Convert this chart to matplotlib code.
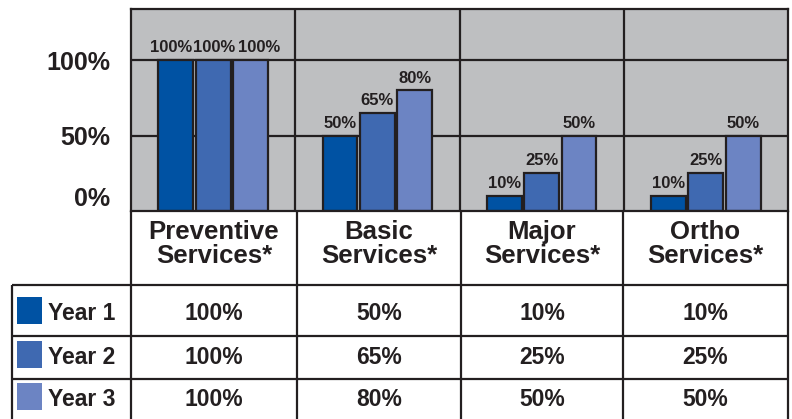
import matplotlib.pyplot as plt

# Data
categories = ['Preventive\nServices*', 'Basic\nServices*', 'Major\nServices*', 'Ortho\nServices*']
years = ['Year 1', 'Year 2', 'Year 3']
year1 = [100, 50, 10, 10]
year2 = [100, 65, 25, 25]
year3 = [100, 80, 50, 50]
yticks = [0, 50, 100]
ytick_labels = ['0%', '50%', '100%']

colors = ['#0052A3', '#3F69B1', '#6C84C3']
ink = '#231F20'
gray = '#BEBFC1'

plt.rcParams['font.family'] = ['Liberation Sans', 'DejaVu Sans']
plt.rcParams['font.weight'] = 'bold'

W, H = 792, 419
fig = plt.figure(figsize=(W / 100, H / 100), dpi=100)

def px_axes(x0, y0, x1, y1):
    # pixel box (top-left origin) -> figure axes
    return fig.add_axes([x0 / W, 1 - y1 / H, (x1 - x0) / W, (y1 - y0) / H])

# ---- bar chart ----
ax = px_axes(131, 9, 788, 211)
ax.set_facecolor(gray)
ax.set_xlim(-0.5, 3.5)
ax.set_ylim(0, 134)
lw = 1.6

for yv in [50, 100]:
    ax.axhline(yv, color=ink, lw=lw, zorder=1)
for xv in [0.5, 1.5, 2.5]:
    ax.axvline(xv, color=ink, lw=lw, zorder=1)

series = [year1, year2, year3]
offsets = [-0.228, 0, 0.228]
spread = [-3.5, 0.5, 6.0]  # label nudge (points) when the three bars are level
x = list(range(len(categories)))
for k, (vals, off, c) in enumerate(zip(series, offsets, colors)):
    pos = [i + off for i in x]
    bars = ax.bar(pos, vals, width=0.212, color=c, edgecolor=ink, linewidth=lw, zorder=2)
    for i, (b, v) in enumerate(zip(bars, vals)):
        level = year1[i] == year2[i] == year3[i]
        dx = spread[k] if level else 0
        ax.annotate(f'{v}%', (b.get_x() + b.get_width() / 2, v), xytext=(dx, 3.5),
                    textcoords='offset points', ha='center', va='bottom',
                    fontsize=12, fontweight='bold', color=ink)

ax.set_xticks([])
ax.set_yticks(yticks)
ax.set_yticklabels(ytick_labels, fontsize=18, fontweight='bold', color=ink)
ax.tick_params(axis='y', length=0, pad=15)
ax.get_yticklabels()[0].set_va('bottom')
for s in ax.spines.values():
    s.set_linewidth(lw)
    s.set_color(ink)

# ---- table below ----
tb = px_axes(0, 211, W, H)
tb.set_xlim(0, W)
tb.set_ylim(H, 211)
tb.axis('off')

col_edges = [131, 297, 461, 623, 788]
row_edges = [285, 336, 379]
row_mid = [313, 357, 399]

for xe in col_edges:
    tb.plot([xe, xe], [211, H], color=ink, lw=lw, solid_capstyle='butt')
tb.plot([12, 12], [285, H], color=ink, lw=lw, solid_capstyle='butt')
for ye in row_edges:
    tb.plot([12, 788], [ye, ye], color=ink, lw=lw, solid_capstyle='butt')

for i, cat in enumerate(categories):
    cx = (col_edges[i] + col_edges[i + 1]) / 2
    tb.text(cx, 244, cat, ha='center', va='center', fontsize=18.5,
            fontweight='bold', color=ink, linespacing=1.0)

for r, (yr, vals, c) in enumerate(zip(years, series, colors)):
    ym = row_mid[r]
    tb.add_patch(plt.Rectangle((17, ym - 16), 25, 27, color=c, lw=0))
    tb.text(48, ym, yr, ha='left', va='center', fontsize=16.5,
            fontweight='bold', color=ink)
    for i, v in enumerate(vals):
        cx = (col_edges[i] + col_edges[i + 1]) / 2
        tb.text(cx, ym, f'{v}%', ha='center', va='center', fontsize=16.5,
                fontweight='bold', color=ink)

fig.savefig('out.png', dpi=100)
